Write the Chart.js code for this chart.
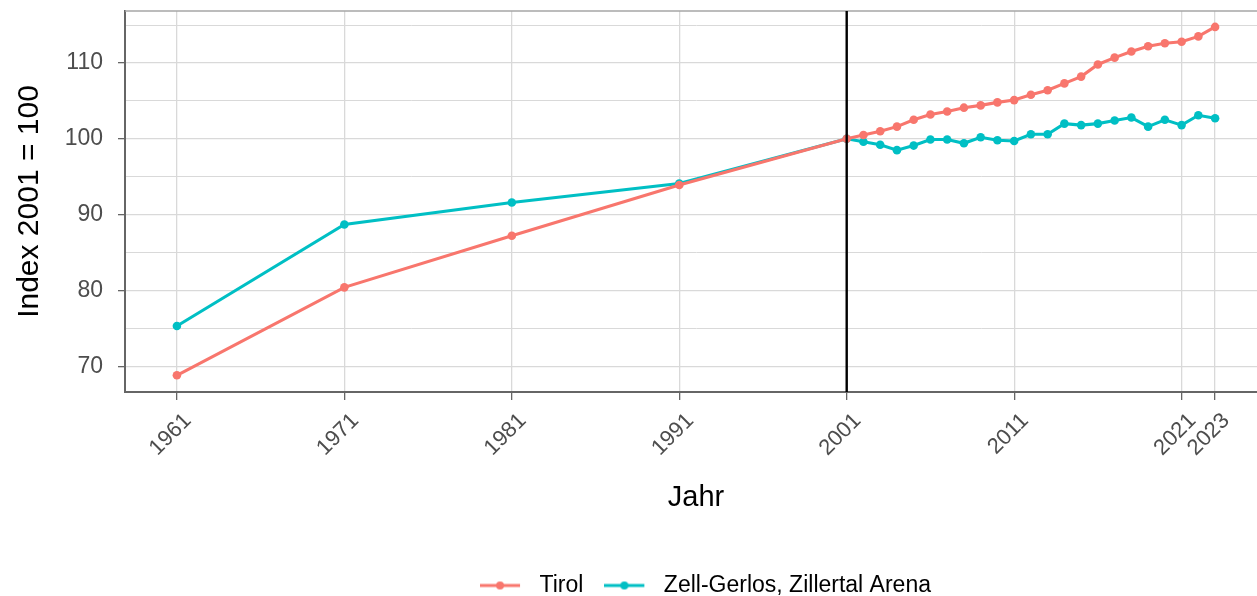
<!DOCTYPE html>
<html><head><meta charset="utf-8">
<script src="https://cdn.jsdelivr.net/npm/chart.js@4"></script>
<style>html,body{margin:0;padding:0;overflow:hidden;background:#fff}#wrap{width:1411px;height:596px;position:relative}</style>
</head><body><div id="wrap"><canvas id="c" width="1411" height="596"></canvas></div>
<script>
const years = [1961,1971,1981,1991,2001,2002,2003,2004,2005,2006,2007,2008,2009,2010,2011,2012,2013,2014,2015,2016,2017,2018,2019,2020,2021,2022,2023];
const tirol = [68.8,80.4,87.2,93.9,100,100.5,101.0,101.6,102.5,103.2,103.6,104.1,104.4,104.8,105.1,105.8,106.4,107.3,108.2,109.8,110.7,111.5,112.2,112.6,112.8,113.5,114.75];
const zell  = [75.3,88.7,91.6,94.1,100,99.6,99.2,98.5,99.1,99.9,99.9,99.4,100.2,99.8,99.7,100.6,100.6,102.0,101.8,102.0,102.4,102.8,101.6,102.5,101.8,103.1,102.7];
const xTickYears = [1961,1971,1981,1991,2001,2011,2021,2023];
const yTickValues = [70,75,80,85,90,95,100,105,110,115];
const seriesNames = ['Tirol','Zell-Gerlos, Zillertal Arena'];
const seriesColors = ['#F8766D','#00BFC4'];
const referenceYear = 2001;
const xTitle = 'Jahr';
const yTitle = 'Index 2001 = 100';

Chart.defaults.font.family = "'Liberation Sans', Arial, sans-serif";

function makeKey(color){
  const c = document.createElement('canvas');
  c.width = 48; c.height = 12;
  const g = c.getContext('2d');
  g.strokeStyle = color; g.lineWidth = 3.2;
  g.beginPath(); g.moveTo(0,6); g.lineTo(40,6); g.stroke();
  g.fillStyle = color; g.beginPath(); g.arc(20,6,4,0,Math.PI*2); g.fill();
  return c;
}

const seriesValues = [tirol, zell];
const datasets = seriesNames.map((name,i)=>({
  label: name,
  data: years.map((yr,j)=>({x: yr, y: seriesValues[i][j]})),
  borderColor: seriesColors[i],
  backgroundColor: seriesColors[i],
  pointBackgroundColor: seriesColors[i],
  pointBorderWidth: 0,
  pointRadius: 4.3,
  borderWidth: 3.1,
  tension: 0,
  fill: false
}));

const decor = {
  id: 'decor',
  beforeDatasetsDraw(chart){
    const {ctx, chartArea:a} = chart;
    ctx.save();
    ctx.strokeStyle = '#a6a6a6'; ctx.lineWidth = 1.5;
    ctx.beginPath(); ctx.moveTo(a.left, a.top); ctx.lineTo(a.right, a.top); ctx.stroke();
    ctx.restore();
  },
  afterDatasetsDraw(chart){
    const {ctx, chartArea:a, scales} = chart;
    const px = scales.x.getPixelForValue(referenceYear);
    ctx.save();
    ctx.strokeStyle = '#000'; ctx.lineWidth = 2.4;
    ctx.beginPath(); ctx.moveTo(px, a.top); ctx.lineTo(px, a.bottom); ctx.stroke();
    ctx.restore();
  }
};

new Chart(document.getElementById('c'), {
  type: 'line',
  data: { datasets },
  options: {
    responsive: false,
    animation: false,
    layout: { padding: { top: 11, left: 0, right: 0, bottom: -11 } },
    plugins: {
      tooltip: { enabled: false },
      legend: {
        display: true,
        position: 'bottom',
        labels: {
          usePointStyle: true,
          pointStyleWidth: 48,
          padding: 21,
          color: '#1a1a1a',
          font: { size: 23 },
          generateLabels: chart => chart.data.datasets.map((ds,i)=>({
            text: ds.label, pointStyle: makeKey(ds.borderColor),
            fillStyle: ds.borderColor, strokeStyle: ds.borderColor,
            lineWidth: 0, datasetIndex: i, hidden: false
          }))
        }
      }
    },
    scales: {
      x: {
        type: 'linear',
        min: 1957.9, max: 2026.1,
        afterBuildTicks: s => { s.ticks = xTickYears.map(v=>({value:v})); },
        afterFit: s => { s.height = 161; s.paddingLeft = 0; s.paddingRight = 0; },
        ticks: {
          autoSkip: false, minRotation: 45, maxRotation: 45,
          color: '#4d4d4d', font: { size: 22 }, padding: 8, labelOffset: 11,
          callback: v => String(v)
        },
        grid: { color: '#d9d9d9', lineWidth: 1.3, tickColor: '#666', tickLength: 8 },
        border: { color: '#666', width: 2 },
        title: { display: true, text: xTitle, color: '#000', font: { size: 29 }, padding: { top: 0, bottom: 38 } }
      },
      y: {
        type: 'linear',
        min: 66.6, max: 116.85,
        afterBuildTicks: s => { s.ticks = yTickValues.map(v=>({value:v})); },
        afterFit: s => { s.width = 125; s.paddingTop = 0; s.paddingBottom = 0; },
        ticks: {
          color: '#4d4d4d', font: { size: 23 }, padding: 15,
          callback: v => (v % 10 === 0 ? String(v) : '')
        },
        grid: {
          color: '#d9d9d9',
          lineWidth: c => (c.tick && c.tick.value % 10 === 0 ? 1.3 : 1.0),
          tickColor: c => (c.tick && c.tick.value % 10 === 0 ? '#666' : 'rgba(0,0,0,0)'),
          tickLength: 7
        },
        border: { color: '#666', width: 2 },
        title: { display: true, text: yTitle, color: '#000', font: { size: 30 }, padding: { top: 12, bottom: 0 } }
      },
      yRight: {
        position: 'right', display: true,
        grid: { display: false }, border: { display: false }, ticks: { display: false },
        afterFit: s => { s.width = 144; s.paddingTop = 0; s.paddingBottom = 0; }
      }
    }
  },
  plugins: [decor]
});
</script>
</body></html>
